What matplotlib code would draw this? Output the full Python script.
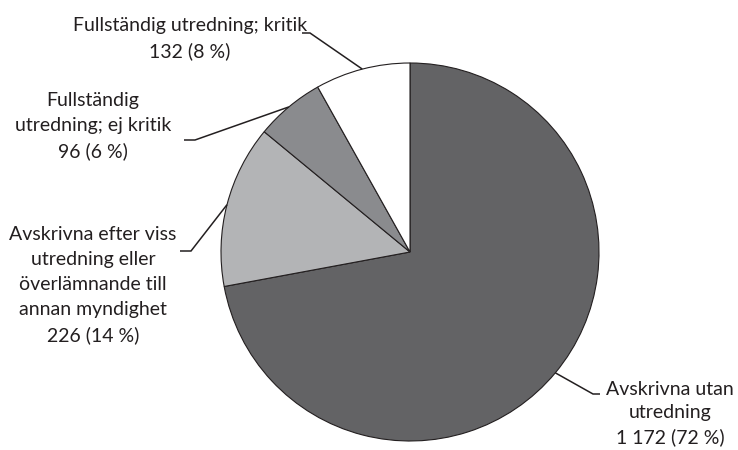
import numpy as np
import matplotlib
matplotlib.use("Agg")
import matplotlib.pyplot as plt

# Data
categories = [
    "Avskrivna utan\nutredning",
    "Avskrivna efter viss\nutredning eller\növerlämnande till\nannan myndighet",
    "Fullständig\nutredning; ej kritik",
    "Fullständig utredning; kritik",
]
counts = [1172, 226, 96, 132]
percents = [72, 14, 6, 8]
colors = ["#636365", "#b3b4b6", "#8a8b8e", "#ffffff"]

W, H = 738, 450
fig = plt.figure(figsize=(W / 100, H / 100), dpi=100)
ax = fig.add_axes([0, 0, 1, 1])
ax.set_xlim(0, W)
ax.set_ylim(0, H)
ax.set_aspect("equal")
ax.axis("off")

cx, cy, r = 410, H - 252, 189
ink = "#231f20"

wedges, _ = ax.pie(
    counts, colors=colors, startangle=90, counterclock=False,
    center=(cx, cy), radius=r, frame=True,
    wedgeprops=dict(edgecolor=ink, linewidth=0.8),
)
ax.set_xlim(0, W)
ax.set_ylim(0, H)
ax.axis("off")


def fmt(n):
    return f"{n:,}".replace(",", " ")


# label centre (x, top-y in pixels), line spacing, leader knee and end
layout = [
    dict(tx=670, ty=381, ls=1.45, knee=(593, 394), end=(600, 394)),
    dict(tx=93, ty=226, ls=1.56, knee=(191, 251), end=(180, 251)),
    dict(tx=93, ty=92, ls=1.56, knee=(195, 140), end=(184, 140)),
    dict(tx=190, ty=17, ls=1.56, knee=(310, 33), end=(302, 33)),
]

font = dict(family=["Lato", "DejaVu Sans"], fontsize=14, color=ink)

for w, cat, n, p, lay in zip(wedges, categories, counts, percents, layout):
    mid = np.deg2rad((w.theta1 + w.theta2) / 2)
    ex, ey = cx + r * np.cos(mid), cy + r * np.sin(mid)
    kx, ky = lay["knee"]
    fx, fy = lay["end"]
    ax.plot([ex, kx, fx], [ey, H - ky, H - fy], color=ink, lw=1.1,
            solid_capstyle="butt", solid_joinstyle="miter")
    ax.text(lay["tx"], H - lay["ty"], f"{cat}\n{fmt(n)} ({p} %)",
            ha="center", va="top", linespacing=lay["ls"], **font)

fig.savefig("out.png", dpi=100)
